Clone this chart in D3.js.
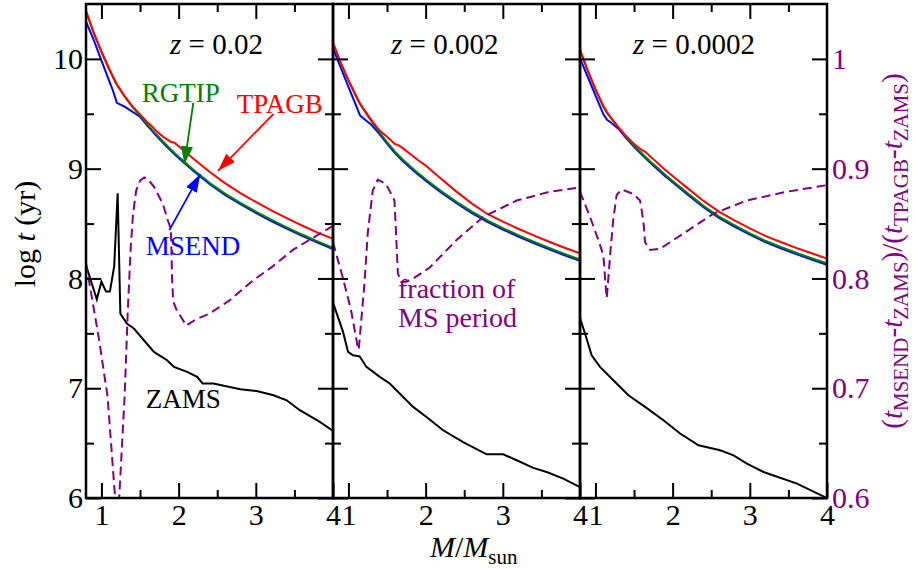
<!DOCTYPE html>
<html>
<head>
<meta charset="utf-8">
<script src="https://cdn.jsdelivr.net/npm/d3@7"></script>
<style>
  body { margin: 0; background: #fff; }
  svg, svg text { font-family: "Liberation Serif", "Times New Roman", serif; }
</style>
</head>
<body>
<div id="chart"></div>
<script>
// DATA

// mass grid shared by the TPAGB / RGTIP / MSEND tracks
const massGrid = [0.8, 0.9, 1.0, 1.1, 1.15, 1.2, 1.3, 1.4, 1.5, 1.6, 1.65, 1.7, 1.8, 1.9, 1.95, 2.0, 2.2, 2.4, 2.6, 2.8, 3.0, 3.2, 3.4, 3.6, 3.8, 4.0];

// z = 0.02
const tpagb1 = [10.435, 10.24, 10.067, 9.91, 9.837, 9.767, 9.662, 9.569, 9.495, 9.42, 9.39, 9.35, 9.29, 9.245, 9.235, 9.205, 9.086, 8.972, 8.868, 8.778, 8.697, 8.621, 8.55, 8.482, 8.418, 8.36];
const rgtip1 = [10.43, 10.236, 10.063, 9.906, 9.833, 9.763, 9.657, 9.562, 9.485, 9.40, 9.36, 9.32, 9.245, 9.174, 9.14, 9.109, 8.986, 8.872, 8.773, 8.688, 8.609, 8.535, 8.466, 8.40, 8.338, 8.28];
const msend1 = [10.34, 10.174, 9.985, 9.80, 9.71, 9.60, 9.565, 9.52, 9.473, 9.388, 9.348, 9.308, 9.233, 9.162, 9.128, 9.097, 8.974, 8.86, 8.761, 8.676, 8.597, 8.523, 8.454, 8.388, 8.326, 8.268];
const zamsMass1 = [0.8, 0.94, 1.0, 1.06, 1.11, 1.165, 1.21, 1.245, 1.33, 1.42, 1.55, 1.68, 1.85, 1.94, 2.11, 2.24, 2.31, 2.45, 2.8, 3.01, 3.23, 3.4, 3.57, 3.83, 4.0];
const zams1 = [8.12, 7.81, 7.97, 7.88, 7.88, 8.11, 8.775, 7.68, 7.59, 7.544, 7.437, 7.331, 7.255, 7.194, 7.149, 7.103, 7.043, 7.043, 6.99, 6.975, 6.936, 6.89, 6.80, 6.693, 6.61];
const fracMass1 = [0.8, 0.97, 1.08, 1.17, 1.21, 1.23, 1.3, 1.34, 1.38, 1.41, 1.45, 1.5, 1.556, 1.62, 1.686, 1.795, 1.86, 1.9, 1.915, 1.93, 1.97, 2.1, 2.23, 2.4, 2.66, 2.96, 3.22, 3.48, 3.74, 4.0];
const frac1 = [0.814, 0.744, 0.692, 0.607, 0.578, 0.6, 0.692, 0.768, 0.829, 0.859, 0.88, 0.889, 0.892, 0.889, 0.883, 0.868, 0.853, 0.845, 0.80, 0.779, 0.772, 0.757, 0.763, 0.768, 0.78, 0.798, 0.811, 0.826, 0.837, 0.848];

// z = 0.002
const tpagb2 = [10.145, 9.966, 9.807, 9.662, 9.595, 9.54, 9.44, 9.35, 9.29, 9.225, 9.212, 9.189, 9.133, 9.079, 9.054, 9.029, 8.909, 8.791, 8.682, 8.587, 8.518, 8.453, 8.392, 8.334, 8.28, 8.228];
const rgtip2 = [10.14, 9.961, 9.802, 9.657, 9.59, 9.535, 9.43, 9.333, 9.242, 9.157, 9.12, 9.086, 9.022, 8.961, 8.932, 8.903, 8.796, 8.698, 8.608, 8.528, 8.459, 8.395, 8.335, 8.278, 8.224, 8.173];
const msend2 = [10.097, 9.92, 9.746, 9.571, 9.485, 9.455, 9.398, 9.318, 9.229, 9.144, 9.107, 9.073, 9.009, 8.948, 8.919, 8.89, 8.783, 8.685, 8.595, 8.515, 8.446, 8.382, 8.322, 8.265, 8.211, 8.16];
const zamsMass2 = [0.8, 0.93, 0.995, 1.06, 1.146, 1.233, 1.406, 1.535, 1.838, 2.011, 2.227, 2.486, 2.79, 3.005, 3.18, 3.394, 3.568, 3.783, 4.0];
const zams2 = [7.78, 7.513, 7.331, 7.30, 7.29, 7.194, 7.103, 7.043, 6.83, 6.738, 6.617, 6.51, 6.398, 6.398, 6.344, 6.274, 6.237, 6.177, 6.10];
const fracMass2 = [0.8, 0.926, 1.034, 1.12, 1.133, 1.163, 1.207, 1.25, 1.315, 1.38, 1.487, 1.596, 1.617, 1.64, 1.68, 1.75, 1.84, 2.054, 2.4, 2.746, 3.18, 3.61, 4.0];
const frac2 = [0.833, 0.801, 0.771, 0.738, 0.735, 0.759, 0.795, 0.841, 0.88, 0.89, 0.886, 0.871, 0.841, 0.805, 0.797, 0.797, 0.80, 0.81, 0.835, 0.856, 0.871, 0.879, 0.883];

// z = 0.0002
const tpagb3 = [10.085, 9.896, 9.726, 9.573, 9.513, 9.466, 9.376, 9.295, 9.225, 9.17, 9.151, 9.118, 9.055, 8.991, 8.962, 8.933, 8.818, 8.706, 8.609, 8.53, 8.456, 8.388, 8.332, 8.279, 8.229, 8.182];
const rgtip3 = [10.08, 9.891, 9.721, 9.568, 9.508, 9.461, 9.371, 9.288, 9.211, 9.14, 9.106, 9.073, 9.01, 8.946, 8.917, 8.888, 8.773, 8.661, 8.564, 8.485, 8.411, 8.343, 8.287, 8.234, 8.184, 8.137];
const msend3 = [10.005, 9.836, 9.668, 9.50, 9.445, 9.42, 9.362, 9.276, 9.199, 9.128, 9.094, 9.061, 8.998, 8.934, 8.905, 8.876, 8.761, 8.649, 8.552, 8.473, 8.399, 8.331, 8.275, 8.222, 8.172, 8.125];
const zamsMass3 = [0.8, 0.865, 0.951, 1.059, 1.232, 1.427, 1.643, 1.881, 2.097, 2.335, 2.616, 2.789, 2.962, 3.178, 3.611, 4.0];
const zams3 = [7.64, 7.499, 7.30, 7.194, 7.073, 6.936, 6.83, 6.708, 6.587, 6.48, 6.435, 6.389, 6.314, 6.237, 6.131, 6.0];
const fracMass3 = [0.8, 0.93, 1.038, 1.103, 1.124, 1.146, 1.165, 1.196, 1.23, 1.275, 1.34, 1.49, 1.578, 1.62, 1.643, 1.708, 1.838, 2.011, 2.227, 2.53, 2.96, 3.48, 4.0];
const frac3 = [0.879, 0.856, 0.835, 0.821, 0.801, 0.782, 0.798, 0.826, 0.853, 0.876, 0.881, 0.877, 0.871, 0.853, 0.833, 0.826, 0.827, 0.835, 0.845, 0.859, 0.871, 0.879, 0.885];

const metallicities = ["0.02", "0.002", "0.0002"];
const xTicks = [1, 2, 3, 4];
const xMinor = [1.5, 2.5, 3.5];
const yTicks = [6, 7, 8, 9, 10];
const yMinor = [6.5, 7.5, 8.5, 9.5];
const fracTicks = [0.6, 0.7, 0.8, 0.9, 1];

// LAYOUT
const WIDTH = 916;
const HEIGHT = 569;
const LEFT = 86;
const PANEL_W = 247;
const TOP = 4;
const BOTTOM = 498;

const purple = "#800080";
const serif = '"Liberation Serif", "Times New Roman", serif';

const svg = d3
  .select("#chart")
  .append("svg")
  .attr("width", WIDTH)
  .attr("height", HEIGHT)
  .attr("font-family", serif);

const y = d3.scaleLinear().domain([6, 10.5]).range([BOTTOM, TOP]);
const yFrac = d3.scaleLinear().domain([0.6, 1.05]).range([BOTTOM, TOP]);

const panels = [
  { tpagb: tpagb1, rgtip: rgtip1, msend: msend1, zm: zamsMass1, zams: zams1, fm: fracMass1, frac: frac1 },
  { tpagb: tpagb2, rgtip: rgtip2, msend: msend2, zm: zamsMass2, zams: zams2, fm: fracMass2, frac: frac2 },
  { tpagb: tpagb3, rgtip: rgtip3, msend: msend3, zm: zamsMass3, zams: zams3, fm: fracMass3, frac: frac3 },
];

// where the "z = ..." label starts in each panel (pixels from panel left)
const zLabelOffset = [84, 58, 53];

const defs = svg.append("defs");

// small helper: an axis group with its domain line removed
function addAxis(transform, axis) {
  return svg
    .append("g")
    .attr("transform", transform)
    .call(axis)
    .call((s) => s.select(".domain").remove());
}

panels.forEach((p, i) => {
  const x0 = LEFT + i * PANEL_W;
  const x = d3.scaleLinear().domain([0.8, 4]).range([x0, x0 + PANEL_W]);
  p.x = x;

  defs
    .append("clipPath")
    .attr("id", "clip" + i)
    .append("rect")
    .attr("x", x0)
    .attr("y", TOP)
    .attr("width", PANEL_W)
    .attr("height", BOTTOM - TOP);

  const g = svg.append("g").attr("clip-path", `url(#clip${i})`);

  const line = d3
    .line()
    .x((d) => x(d[0]))
    .y((d) => y(d[1]));
  const fracLine = d3
    .line()
    .x((d) => x(d[0]))
    .y((d) => yFrac(d[1]));

  const tracks = [
    { v: p.msend, c: "#0000ff" },
    { v: p.rgtip, c: "#008000" },
    { v: p.tpagb, c: "#ff0000" },
  ];
  tracks.forEach((t) => {
    g.append("path")
      .attr("d", line(d3.zip(massGrid, t.v)))
      .attr("fill", "none")
      .attr("stroke", t.c)
      .attr("stroke-width", 2);
  });

  g.append("path")
    .attr("d", line(d3.zip(p.zm, p.zams)))
    .attr("fill", "none")
    .attr("stroke", "#000")
    .attr("stroke-width", 2);

  g.append("path")
    .attr("d", fracLine(d3.zip(p.fm, p.frac)))
    .attr("fill", "none")
    .attr("stroke", purple)
    .attr("stroke-width", 2)
    .attr("stroke-dasharray", "9,5");

  // axes: ticks point inwards on all four sides
  addAxis(`translate(0, ${BOTTOM})`,
    d3.axisBottom(x).tickValues(xTicks).tickSizeInner(-15).tickSizeOuter(0).tickPadding(6).tickFormat(d3.format("d")));
  addAxis(`translate(0, ${BOTTOM})`,
    d3.axisBottom(x).tickValues(xMinor).tickSizeInner(-8).tickSizeOuter(0).tickFormat(""));
  addAxis(`translate(0, ${TOP})`,
    d3.axisTop(x).tickValues(xTicks.slice(0, 3)).tickSizeInner(-15).tickSizeOuter(0).tickFormat(""));
  addAxis(`translate(0, ${TOP})`,
    d3.axisTop(x).tickValues(xMinor).tickSizeInner(-8).tickSizeOuter(0).tickFormat(""));

  addAxis(`translate(${x0}, 0)`,
    d3.axisLeft(y).tickValues(yTicks).tickSizeInner(-15).tickSizeOuter(0).tickPadding(3)
      .tickFormat(i === 0 ? d3.format("d") : ""));
  addAxis(`translate(${x0}, 0)`,
    d3.axisLeft(y).tickValues(yMinor).tickSizeInner(-8).tickSizeOuter(0).tickFormat(""));

  addAxis(`translate(${x0 + PANEL_W}, 0)`,
    d3.axisRight(yFrac).tickValues(fracTicks).tickSizeInner(-15).tickSizeOuter(0).tickPadding(5)
      .tickFormat(i === 2 ? (d) => String(d) : ""))
    .attr("class", "yright");
  addAxis(`translate(${x0 + PANEL_W}, 0)`,
    d3.axisRight(y).tickValues(yMinor).tickSizeInner(-8).tickSizeOuter(0).tickFormat(""));

  svg
    .append("rect")
    .attr("x", x0)
    .attr("y", TOP)
    .attr("width", PANEL_W)
    .attr("height", BOTTOM - TOP)
    .attr("fill", "none")
    .attr("stroke", "#000")
    .attr("stroke-width", 2.5);

  const zt = svg
    .append("text")
    .attr("x", x0 + zLabelOffset[i])
    .attr("y", 54)
    .attr("font-size", 29);
  zt.append("tspan").attr("font-style", "italic").text("z");
  zt.append("tspan").text(" = " + metallicities[i]);
});

// tick styling (d3 puts sans-serif on axis groups, undo it)
svg.selectAll("g").attr("font-family", null).attr("font-size", null);
svg.selectAll(".tick line").attr("stroke", "#000").attr("stroke-width", 2);
svg.selectAll(".tick text").attr("font-size", 30).attr("fill", "#000").attr("font-family", serif);
svg.selectAll(".yright .tick text").attr("fill", purple);

// annotations in panel 1 (data coordinates)
const px = panels[0].x;
const annotations = [
  { text: "RGTIP", color: "#008000", tx: 141.7, ty: 101.7, from: [2.19, 9.6], to: [2.075, 9.04] },
  { text: "TPAGB", color: "#ff0000", tx: 236.7, ty: 113.3, from: [3.23, 9.5], to: [2.51, 8.98] },
  { text: "MSEND", color: "#0000ff", tx: 145.7, ty: 255, from: [1.88, 8.44], to: [2.28, 8.95] },
];
annotations.forEach((a, i) => {
  defs
    .append("marker")
    .attr("id", "head" + i)
    .attr("viewBox", "0 0 18 12")
    .attr("refX", 18)
    .attr("refY", 6)
    .attr("markerWidth", 18)
    .attr("markerHeight", 12)
    .attr("markerUnits", "userSpaceOnUse")
    .attr("orient", "auto")
    .append("path")
    .attr("d", "M0,0L18,6L0,12Z")
    .attr("fill", a.color);
  svg
    .append("line")
    .attr("x1", px(a.from[0]))
    .attr("y1", y(a.from[1]))
    .attr("x2", px(a.to[0]))
    .attr("y2", y(a.to[1]))
    .attr("stroke", a.color)
    .attr("stroke-width", 1.8)
    .attr("marker-end", `url(#head${i})`);
  svg
    .append("text")
    .attr("x", a.tx)
    .attr("y", a.ty)
    .attr("font-size", 27)
    .attr("fill", a.color)
    .text(a.text);
});

svg.append("text").attr("x", 145.7).attr("y", 408.3).attr("font-size", 27).text("ZAMS");

const fracLabel = svg.append("text").attr("font-size", 28).attr("fill", purple);
fracLabel.append("tspan").attr("x", 398).attr("y", 298.3).text("fraction of");
fracLabel.append("tspan").attr("x", 398).attr("y", 326.7).text("MS period");

// axis titles
const yTitle = svg
  .append("text")
  .attr("transform", "translate(35, 234) rotate(-90)")
  .attr("text-anchor", "middle")
  .attr("font-size", 30);
yTitle.append("tspan").text("log ");
yTitle.append("tspan").attr("font-style", "italic").text("t");
yTitle.append("tspan").text(" (yr)");

const xTitle = svg.append("text").attr("x", 430).attr("y", 557).attr("font-size", 30);
xTitle.append("tspan").attr("font-style", "italic").text("M");
xTitle.append("tspan").text("/");
xTitle.append("tspan").attr("font-style", "italic").text("M");
xTitle.append("tspan").attr("font-size", 21).attr("dy", 7).text("sun");

const rTitle = svg
  .append("text")
  .attr("transform", "translate(902, 251) rotate(-90)")
  .attr("text-anchor", "middle")
  .attr("font-size", 29)
  .attr("fill", purple);
const parts = [
  ["(", false, false], ["t", true, false], ["MSEND", false, true], ["-", false, false],
  ["t", true, false], ["ZAMS", false, true], [")/(", false, false], ["t", true, false],
  ["TPAGB", false, true], ["-", false, false], ["t", true, false], ["ZAMS", false, true], [")", false, false],
];
let shifted = false;
parts.forEach(([s, ital, sub]) => {
  const t = rTitle.append("tspan").text(s);
  if (ital) t.attr("font-style", "italic");
  if (sub) {
    t.attr("font-size", 21);
    if (!shifted) t.attr("dy", 6);
    shifted = true;
  } else if (shifted) {
    t.attr("dy", -6);
    shifted = false;
  }
});
</script>
</body>
</html>
